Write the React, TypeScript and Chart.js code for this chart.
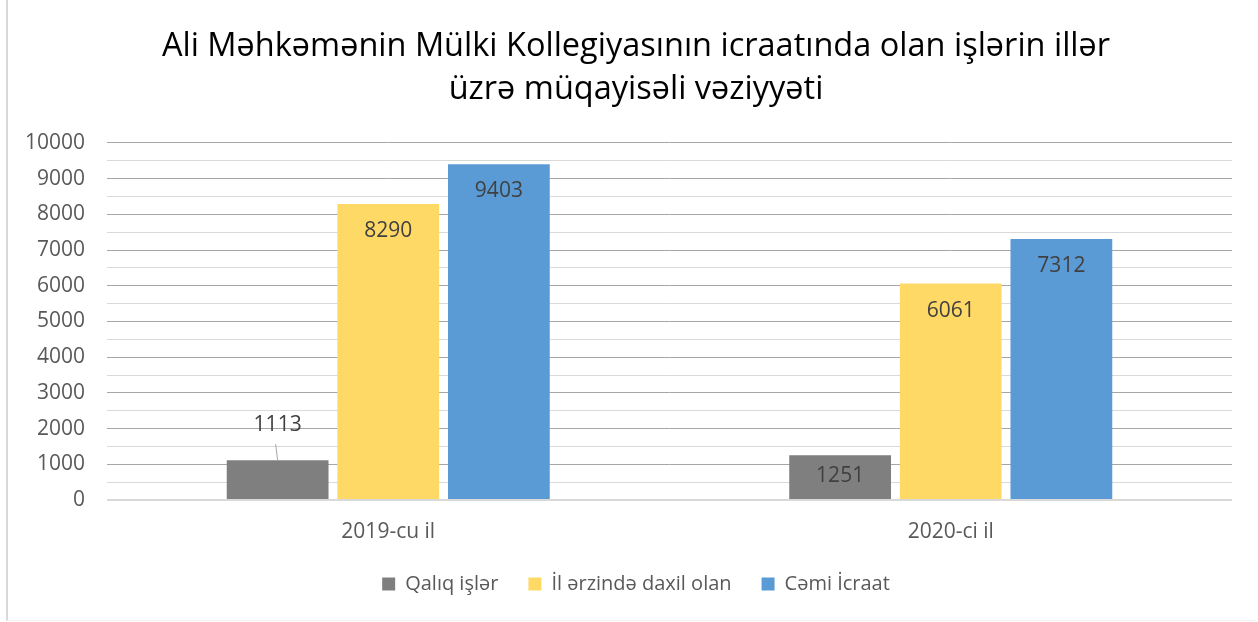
import React, { useEffect, useRef } from "react";
import { Chart, registerables } from "chart.js";

Chart.register(...registerables);

const titleLines = [
  "Ali Məhkəmənin Mülki Kollegiyasının icraatında olan işlərin illər",
  "üzrə müqayisəli vəziyyəti",
];
const categories = ["2019-cu il", "2020-ci il"];
const seriesNames = ["Qalıq işlər", "İl ərzində daxil olan", "Cəmi İcraat"];
const qaliqIsler = [1113, 1251];
const ilErzinde = [8290, 6061];
const cemiIcraat = [9403, 7312];
const seriesColors = ["#7f7f7f", "#ffd966", "#5b9bd5"];
const yMax = 10000;
const yStep = 500;

const FONT = "'Open Sans', sans-serif";

const labelPlugin = {
  id: "barLabels",
  afterDatasetsDraw(chart: any) {
    const ctx = chart.ctx;
    ctx.save();
    ctx.font = `21px ${FONT}`;
    ctx.fillStyle = "#404040";
    ctx.textAlign = "center";
    ctx.textBaseline = "middle";
    chart.data.datasets.forEach((ds: any, di: number) => {
      const meta = chart.getDatasetMeta(di);
      meta.data.forEach((bar: any, i: number) => {
        const v = ds.data[i];
        const h = bar.base - bar.y;
        if (di === 0 && i === 0) {
          // label moved above the bar with a leader line
          const ly = bar.y - 35;
          ctx.fillText(String(v), bar.x, ly);
          ctx.strokeStyle = "#a6a6a6";
          ctx.lineWidth = 1;
          ctx.beginPath();
          ctx.moveTo(bar.x - 2, ly + 19);
          ctx.lineTo(bar.x, bar.y);
          ctx.stroke();
        } else if (h < 60) {
          ctx.fillText(String(v), bar.x, bar.y + h / 2 - 1);
        } else {
          ctx.fillText(String(v), bar.x, bar.y + 27);
        }
      });
    });
    ctx.restore();
  },
};

export default function App() {
  const ref = useRef<HTMLCanvasElement>(null);
  useEffect(() => {
    if (!ref.current) return;
    const chart = new Chart(ref.current, {
      type: "bar",
      data: {
        labels: categories,
        datasets: [qaliqIsler, ilErzinde, cemiIcraat].map((d, k) => ({
          label: seriesNames[k],
          data: d,
          backgroundColor: seriesColors[k],
          borderWidth: 0,
          categoryPercentage: 0.59,
          barPercentage: 0.92,
        })),
      },
      options: {
        responsive: false,
        animation: false,
        layout: { padding: { left: 40, right: 26, top: 0, bottom: 18 } },
        plugins: {
          title: {
            display: true,
            text: titleLines,
            color: "#000000",
            font: { family: FONT, size: 32.5, weight: "normal", lineHeight: 1.323 },
            padding: { top: 25, bottom: 32 },
          },
          legend: {
            position: "bottom",
            labels: {
              boxWidth: 13,
              boxHeight: 13,
              padding: 30,
              color: "#595959",
              font: { family: FONT, size: 20 },
            },
          },
          tooltip: { enabled: false },
        },
        scales: {
          x: {
            grid: { display: false, drawTicks: false },
            border: { display: false },
            ticks: { color: "#595959", font: { family: FONT, size: 21 }, padding: 19 },
            afterFit: (s: any) => {
              s.height = 44;
            },
          },
          y: {
            min: 0,
            max: yMax,
            border: { display: false },
            grid: {
              drawTicks: false,
              color: (c: any) =>
                c.tick.value === 0 ? "#d9d9d9" : c.tick.value % 1000 === 0 ? "#a6a6a6" : "#d9d9d9",
              lineWidth: (c: any) => (c.tick.value === 0 ? 2 : 1),
            },
            ticks: {
              stepSize: yStep,
              autoSkip: false,
              mirror: true,
              crossAlign: "far",
              color: "#595959",
              font: { family: FONT, size: 21 },
              padding: -82,
              callback: (v: any) => (Number(v) % 1000 === 0 ? String(v) : ""),
            },
            afterFit: (s: any) => {
              s.width = 67;
            },
          },
        },
      },
      plugins: [labelPlugin],
    });
    return () => chart.destroy();
  }, []);
  return (
    <div style={{ position: "absolute", left: 0, top: 0, width: 1258, height: 622, background: "#fff" }}>
      <div
        style={{
          position: "absolute",
          left: 6,
          top: 0,
          width: 1250,
          height: 621,
          borderLeft: "2px solid #d9d9d9",
          borderBottom: "1px solid #f0f0f0",
          boxSizing: "border-box",
        }}
      />
      <canvas ref={ref} width={1258} height={622} style={{ position: "absolute", left: 0, top: 0 }} />
    </div>
  );
}
